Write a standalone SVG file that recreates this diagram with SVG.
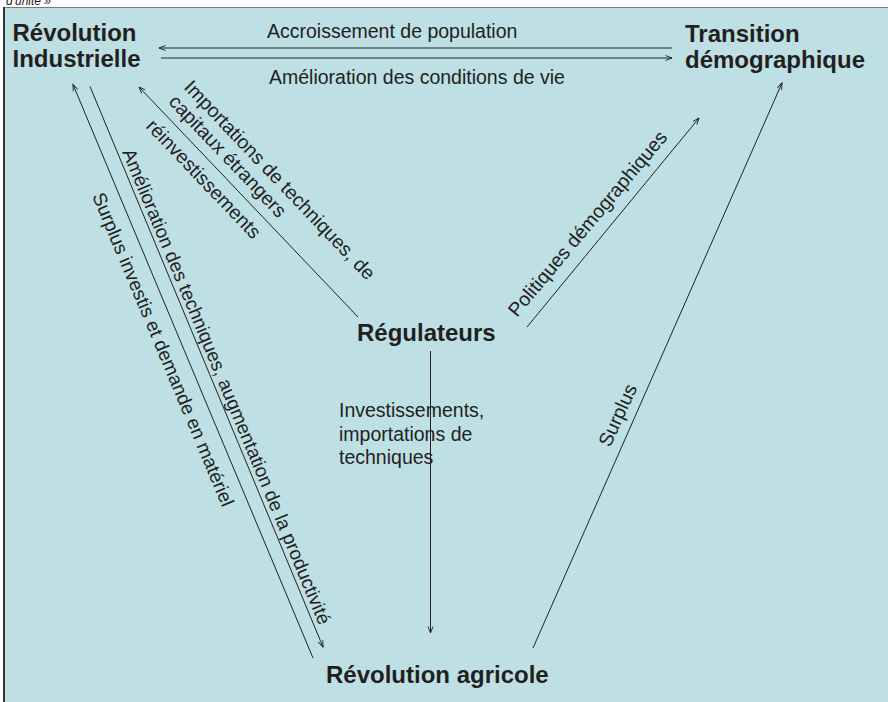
<svg xmlns="http://www.w3.org/2000/svg" width="888" height="702" viewBox="0 0 888 702">
<defs>
<style>
.node{font-family:"Liberation Sans",Arial,Helvetica,sans-serif;font-weight:bold;font-size:24px;fill:#231f20}
.lbl{font-family:"Liberation Sans",Arial,Helvetica,sans-serif;font-size:19.5px;fill:#231f20}
.lbl19{font-size:19px}
.conn{stroke:#231f20;stroke-width:1;fill:none}
</style>
<marker id="arr" markerUnits="userSpaceOnUse" markerWidth="10" markerHeight="10" refX="7" refY="3" orient="auto">
<path d="M0.5,0.5 L7,3 L0.5,5.5" fill="none" stroke="#231f20" stroke-width="0.9"/>
</marker>
</defs>
<rect x="0" y="0" width="888" height="702" fill="#ffffff"/>
<text x="6" y="5" font-family="'Liberation Sans',Arial,sans-serif" font-style="italic" font-size="12" fill="#231f20">d'unité »</text>
<rect x="3" y="7" width="890" height="700" fill="#bee0e4"/>
<line x1="3" y1="7.5" x2="888" y2="7.5" stroke="#7a7a7a" stroke-width="1"/>
<line x1="4" y1="7" x2="4" y2="702" stroke="#333333" stroke-width="2"/>

<g id="node-revolution-industrielle">
<text class="node" x="12.5" y="41">Révolution</text>
<text class="node" x="12.5" y="67">Industrielle</text>
</g>
<g id="node-transition-demographique">
<text class="node" x="685" y="42">Transition</text>
<text class="node" x="685" y="68">démographique</text>
</g>
<g id="node-regulateurs">
<text class="node" x="357" y="341">Régulateurs</text>
</g>
<g id="node-revolution-agricole">
<text class="node" x="326" y="683">Révolution agricole</text>
</g>

<g id="connectors">
<line class="conn" x1="672" y1="48" x2="159" y2="48" marker-end="url(#arr)"/>
<line class="conn" x1="161" y1="58" x2="672" y2="58" marker-end="url(#arr)"/>
<line class="conn" x1="358" y1="317" x2="139" y2="87" marker-end="url(#arr)"/>
<line class="conn" x1="527" y1="327" x2="699" y2="118" marker-end="url(#arr)"/>
<line class="conn" x1="430.5" y1="351" x2="430.5" y2="633" marker-end="url(#arr)"/>
<line class="conn" x1="533" y1="648" x2="782" y2="83" marker-end="url(#arr)"/>
<line class="conn" x1="313" y1="658" x2="73" y2="84.5" marker-end="url(#arr)"/>
<line class="conn" x1="90" y1="86.5" x2="323" y2="647" marker-end="url(#arr)"/>
</g>

<g id="labels">
<text class="lbl" x="267" y="38.3">Accroissement de population</text>
<text class="lbl" x="269" y="84">Amélioration des conditions de vie</text>
<text class="lbl" transform="translate(183,88) rotate(46.4)"><tspan x="0" y="0">Importations de techniques, de</tspan><tspan x="0" y="21.2">capitaux étrangers</tspan></text>
<text class="lbl" transform="translate(145,127) rotate(46.4)">réinvestissements</text>
<text class="lbl" transform="translate(517,318) rotate(-50)">Politiques démographiques</text>
<text class="lbl" transform="translate(610,448) rotate(-65.5)">Surplus</text>
<text class="lbl"><tspan x="339" y="417">Investissements,</tspan><tspan x="339" y="441">importations de</tspan><tspan x="339" y="464">techniques</tspan></text>
<text class="lbl lbl19" transform="translate(122,152) rotate(67.4)">Amélioration des techniques, augmentation de la productivité</text>
<text class="lbl lbl19" transform="translate(92,196) rotate(67.3)">Surplus investis et demande en matériel</text>
</g>
</svg>
